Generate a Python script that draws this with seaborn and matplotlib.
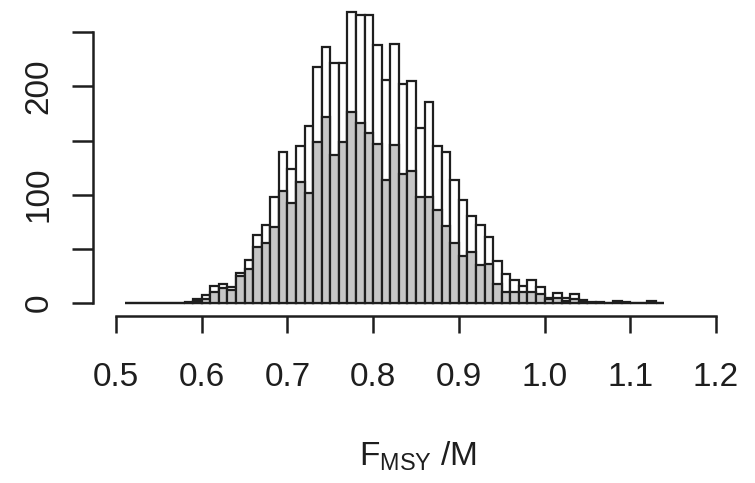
import numpy as np
import pandas as pd
import matplotlib
matplotlib.use("Agg")
import matplotlib.pyplot as plt
import seaborn as sns

# ---- data ----
bin_start = 0.51
bin_width = 0.01
# counts per 0.01-wide bin, starting at 0.51 and ending at 1.14
white_counts = [0, 0, 0, 0, 0, 0, 0, 1, 4, 7,
                16, 18, 15, 28, 40, 63, 72, 98, 139, 124,
                145, 163, 218, 236, 222, 222, 269, 266, 266, 238,
                206, 239, 202, 205, 162, 186, 145, 139, 114, 95,
                80, 72, 61, 39, 27, 21, 16, 21, 15, 5,
                9, 5, 8, 3, 1, 1, 0, 2, 1, 0,
                0, 2, 0]
grey_counts = [0, 0, 0, 0, 0, 0, 0, 0, 2, 4,
               10, 14, 12, 25, 31, 52, 55, 70, 103, 92,
               112, 102, 149, 172, 137, 149, 176, 166, 157, 147,
               114, 146, 119, 122, 98, 98, 86, 71, 55, 43,
               47, 35, 36, 18, 10, 10, 10, 10, 8, 4,
               5, 2, 4, 1, 0, 0, 0, 0, 0, 0,
               0, 0, 0]
x_ticks = [0.5, 0.6, 0.7, 0.8, 0.9, 1.0, 1.1, 1.2]
x_ticklabels = ["0.5", "0.6", "0.7", "0.8", "0.9", "1.0", "1.1", "1.2"]
y_ticks = [0, 50, 100, 150, 200, 250]
y_ticklabels = ["0", "", "100", "", "200", ""]
x_label = r"$\mathregular{F_{MSY}}$ /M"

n_bins = len(white_counts)
edges = [float(v) for v in bin_start + bin_width * np.arange(n_bins + 1)]
centers = [(a + b) / 2 for a, b in zip(edges[:-1], edges[1:])]
df = pd.DataFrame({"x": centers, "white": white_counts, "grey": grey_counts})

# ---- style ----
sns.set_style("white")
plt.rcParams["font.family"] = ["Liberation Sans", "DejaVu Sans"]
plt.rcParams["mathtext.fontset"] = "custom"
plt.rcParams["mathtext.rm"] = "Liberation Sans"

W, H = 755, 483
fig = plt.figure(figsize=(W / 100, H / 100), dpi=100)

# axes placed in pixel terms
left_px, right_px = 93.3, 740.0
bottom_px, top_px = 316.0, 10.0
ax = fig.add_axes([left_px / W, 1 - bottom_px / H,
                   (right_px - left_px) / W, (bottom_px - top_px) / H])

edge_col = "#1e1e1e"
sns.histplot(data=df, x="x", weights="white", bins=edges, stat="count",
             color="white", alpha=1, edgecolor=edge_col, linewidth=1.6, ax=ax)
sns.histplot(data=df, x="x", weights="grey", bins=edges, stat="count",
             color="#c6c6c6", alpha=1, edgecolor=edge_col, linewidth=1.6, ax=ax)

px_per_unit_x = 857.0
x0_val = 0.5 - (116.0 - left_px) / px_per_unit_x
x1_val = x0_val + (right_px - left_px) / px_per_unit_x
ax.set_xlim(x0_val, x1_val)
py = 1.083
zero_px = 303.0
ax.set_ylim(-(bottom_px - zero_px) / py, (zero_px - top_px) / py)

for s in ["top", "right"]:
    ax.spines[s].set_visible(False)
for s in ["left", "bottom"]:
    ax.spines[s].set_color("#1e1e1e")
    ax.spines[s].set_linewidth(1.8)
ax.spines["left"].set_bounds(0, 250)
ax.spines["bottom"].set_bounds(0.5, 1.2)

ax.set_xticks(x_ticks)
ax.set_xticklabels(x_ticklabels)
ax.set_yticks(y_ticks)
ax.set_yticklabels(y_ticklabels, rotation=90, va="center")
ax.tick_params(axis="x", bottom=True, direction="out", length=12.5, width=1.8,
               color="#1e1e1e", pad=20.5, labelsize=24, labelcolor="#1e1e1e")
ax.tick_params(axis="y", left=True, direction="out", length=15, width=1.8,
               color="#1e1e1e", pad=13, labelsize=24, labelcolor="#1e1e1e")
ax.set_xlabel("")
ax.set_ylabel("")

fig.text(418 / W, 1 - 466 / H, x_label, ha="center", va="baseline",
         fontsize=24, color="#1e1e1e")

fig.savefig("out.png", dpi=100, facecolor="white")
